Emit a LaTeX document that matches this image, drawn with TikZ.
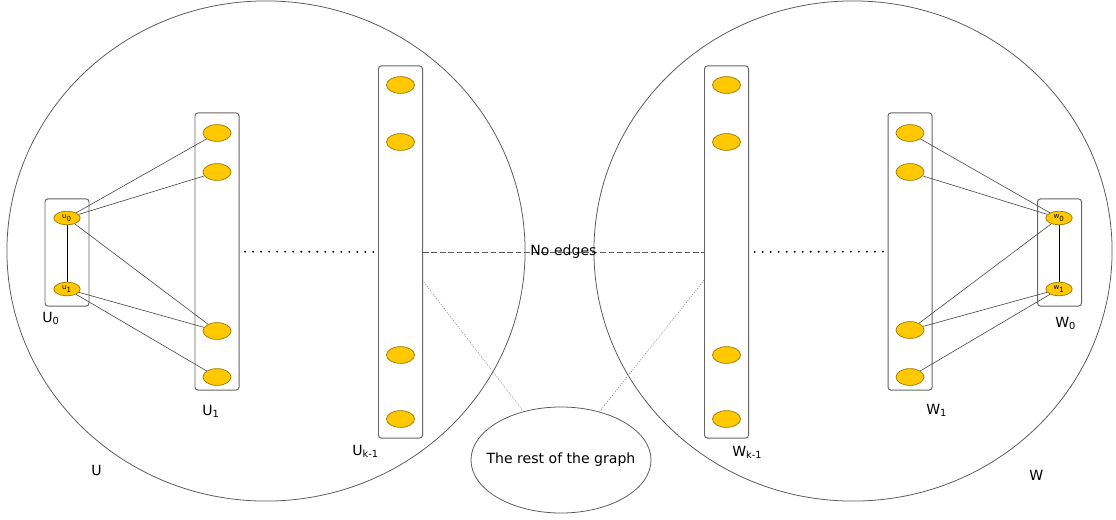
\documentclass[tikz,border=0pt]{standalone}
\usepackage{fontspec}
\setmainfont{DejaVu Sans}
\usetikzlibrary{shapes.geometric, positioning}

\definecolor{vtxfill}{HTML}{FFC800}
\definecolor{vtxline}{HTML}{9A7A00}

\begin{document}
\begin{tikzpicture}[
    x=0.025cm, y=-0.025cm,
    font=\fontsize{10}{12}\selectfont,
    side/.style={
      ellipse, draw=black!65, line width=0.55pt,
      minimum width=12.95cm, minimum height=12.5cm, inner sep=0pt
    },
    layer/.style={
      rectangle, rounded corners=2pt,
      draw=black!60, line width=0.7pt,
      minimum width=1.1cm, inner sep=0pt
    },
    vtx/.style={
      ellipse, draw=vtxline, fill=vtxfill, line width=0.5pt,
      minimum width=0.7cm, minimum height=0.42cm, inner sep=0pt
    },
    svtx/.style={
      vtx, minimum width=0.66cm, minimum height=0.34cm,
      font=\fontsize{5}{6}\selectfont
    },
    lbl/.style={anchor=base west, inner sep=0pt},
    edge/.style={draw=black!70, line width=0.45pt},
    gap/.style={
      line width=1.5pt, line cap=round, dash pattern=on 0pt off 5.7pt,
      shorten >=3pt, shorten <=4pt
    },
    noedge/.style={draw=black!65, line width=0.5pt, dash pattern=on 4pt off 2pt},
    faint/.style={draw=black!40, line width=0.5pt, dash pattern=on 0.8pt off 1pt}
  ]

    \useasboundingbox (0,0) rectangle (1116,519);

    % --- The two sides and the rest ---
    \node[side] (sideU) at (266,251) {};
    \node[side] (sideW) at (853,251) {};
    \node[ellipse, draw=black!65, line width=0.55pt,
      inner xsep=-8pt, inner ysep=0pt,
      minimum width=4.5cm, minimum height=2.65cm] (rest) at (561,460)
      {The rest of the graph};

    % --- Layers of U ---
    \node[layer, minimum height=2.675cm] (U0) at (67,252.5) {};
    \node[layer, minimum height=6.925cm] (U1) at (217,251.5) {};
    \node[layer, minimum height=9.3cm] (Uk) at (400.5,252) {};

    % --- Layers of W ---
    \node[layer, minimum height=9.3cm] (Wk) at (726.5,252) {};
    \node[layer, minimum height=6.925cm] (W1) at (910,251.5) {};
    \node[layer, minimum height=2.675cm] (W0) at (1059.5,252.5) {};

    % --- Vertices in U ---
    \node[svtx] (u0) at (67,218) {u\textsubscript{0}};
    \node[svtx] (u1) at (67,289) {u\textsubscript{1}};
    \node[vtx] (p1) at (217,133) {};
    \node[vtx] (p2) at (217,172) {};
    \node[vtx] (p3) at (217,331) {};
    \node[vtx] (p4) at (217,377) {};
    \node[vtx] (q1) at (400.5,85) {};
    \node[vtx] (q2) at (400.5,142) {};
    \node[vtx] (q3) at (400.5,355) {};
    \node[vtx] (q4) at (400.5,419) {};

    % --- Vertices in W ---
    \node[vtx] (r1) at (726.5,85) {};
    \node[vtx] (r2) at (726.5,142) {};
    \node[vtx] (r3) at (726.5,355) {};
    \node[vtx] (r4) at (726.5,419) {};
    \node[vtx] (s1) at (910,133) {};
    \node[vtx] (s2) at (910,172) {};
    \node[vtx] (s3) at (910,330) {};
    \node[vtx] (s4) at (910,377) {};
    \node[svtx] (w0) at (1059,218) {w\textsubscript{0}};
    \node[svtx] (w1) at (1059,289) {w\textsubscript{1}};

    % --- Labels ---
    \node[lbl] (labU0) at (42,322) {U\textsubscript{0}};
    \node[lbl] (labU1) at (202,415) {U\textsubscript{1}};
    \node[lbl] (labUk) at (352,455) {U\textsubscript{k-1}};
    \node[lbl] (labU) at (91,475) {U};
    \node[lbl] (labWk) at (732,456) {W\textsubscript{k-1}};
    \node[lbl] (labW1) at (926,414) {W\textsubscript{1}};
    \node[lbl] (labW0) at (1055,327) {W\textsubscript{0}};
    \node[lbl] (labW) at (1029,480) {W};

    % Edges inside U
    \draw[edge, black] (u0) -- (u1);
    \draw[edge] (u0) -- (p1);
    \draw[edge] (u0) -- (p2);
    \draw[edge] (u0) -- (p3);
    \draw[edge] (u1) -- (p3);
    \draw[edge] (u1) -- (p4);

    % Edges inside W
    \draw[edge, black] (w0) -- (w1);
    \draw[edge] (w0) -- (s1);
    \draw[edge] (w0) -- (s2);
    \draw[edge] (w0) -- (s3);
    \draw[edge] (w1) -- (s3);
    \draw[edge] (w1) -- (s4);

    % Skipped layers
    \draw[gap] (U1) -- (Uk);
    \draw[gap] (Wk) -- (W1);

    % No edges across, rest of the graph below
    \draw[noedge] (Uk) -- (Wk) node[midway] {No edges};
    \draw[faint] (rest) -- (Uk);
    \draw[faint] (rest) -- (Wk);

  \end{tikzpicture}
\end{document}
